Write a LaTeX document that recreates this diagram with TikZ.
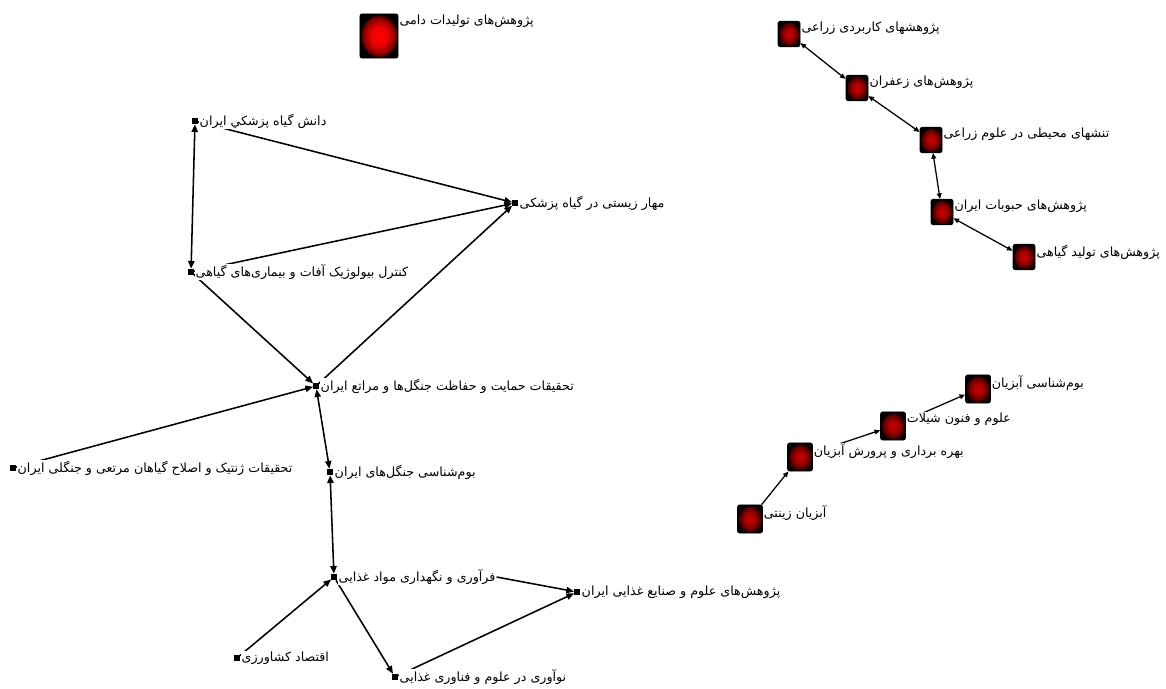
\documentclass[tikz,border=0pt]{standalone}
\usepackage{fontspec}
\newfontfamily\farsi[Script=Arabic]{DejaVu Sans}
\TeXXeTstate=1
\usetikzlibrary{arrows.meta,positioning}
\newcommand{\fa}[1]{\beginR #1\endR}
% Sombreados de los cuadros
\pgfdeclareradialshading{brillo}{\pgfpoint{0bp}{0bp}}{color(0bp)=(red); color(11bp)=(red!92!black);
  color(21bp)=(red!50!black); color(25bp)=(black); color(50bp)=(black)}
\pgfdeclareradialshading{granate}{\pgfpoint{0bp}{0bp}}{color(0bp)=(red!78!black); color(9bp)=(red!68!black);
  color(20bp)=(red!35!black); color(25bp)=(black); color(50bp)=(black)}
\tikzset{
  punto/.style={fill=black, inner sep=0pt, minimum width=0.13cm, minimum height=0.15cm},
  cuadro/.style={draw=black, line width=0.6pt, rounded corners=1.5pt, inner sep=0pt,
    minimum width=0.55cm, minimum height=0.63cm, shade, shading=granate},
  cuadrob/.style={cuadro, minimum width=0.62cm, minimum height=0.7cm},
  cuadrogrande/.style={cuadro, minimum width=0.95cm, minimum height=1.1cm, shading=brillo},
  etiqueta/.style={fill=white, inner sep=0.6pt, font=\farsi\fontsize{9}{10}\selectfont},
  flecha/.style={-{Triangle[length=5.5pt,width=4.5pt]}, line width=1.1pt},
  doblef/.style={{Triangle[length=5.5pt,width=4.5pt]}-{Triangle[length=5.5pt,width=4.5pt]}, line width=1.1pt},
  doble/.style={{Triangle[length=4pt,width=3.4pt]}-{Triangle[length=4pt,width=3.4pt]}, line width=0.9pt},
  fina/.style={-{Triangle[length=4pt,width=3.4pt]}, line width=0.9pt}
}
\begin{document}
\begin{tikzpicture}[x=0.025cm, y=-0.025cm]
  \useasboundingbox (0,0) rectangle (1166,689);
  % Nodos del grupo izquierdo
  \node[punto] (danesh) at (195,121) {};
  \node[punto] (mahar) at (515,203) {};
  \node[punto] (kontrol) at (191,272) {};
  \node[punto] (hemayat) at (316,386) {};
  \node[punto] (zhenetik) at (13,468) {};
  \node[punto] (boomjangal) at (330,472) {};
  \node[punto] (faravari) at (334,577) {};
  \node[punto] (sanaye) at (577,592) {};
  \node[punto] (eghtesad) at (237,658) {};
  \node[punto] (noavari) at (395,677) {};
  % Cuadros rojos
  \node[cuadrogrande] (dami) at (379,36) {};
  \node[cuadro] (karbordi) at (789,34) {};
  \node[cuadro] (zafaran) at (857,88) {};
  \node[cuadro] (tanesh) at (931,140) {};
  \node[cuadro] (hobubat) at (942,212) {};
  \node[cuadro] (tolid) at (1024,257) {};
  \node[cuadrob] (zinati) at (750,519) {};
  \node[cuadrob] (bahre) at (800,457) {};
  \node[cuadrob] (shilat) at (893,426) {};
  \node[cuadrob] (abzian) at (978,389) {};
  % Aristas del grupo izquierdo
  \draw[doblef] (danesh) -- (kontrol);
  \draw[flecha] (danesh) -- (mahar);
  \draw[flecha] (kontrol) -- (mahar);
  \draw[flecha] (kontrol) -- (hemayat);
  \draw[flecha] (hemayat) -- (mahar);
  \draw[flecha] (zhenetik) -- (hemayat);
  \draw[doblef] (hemayat) -- (boomjangal);
  \draw[doblef] (boomjangal) -- (faravari);
  \draw[flecha] (eghtesad) -- (faravari);
  \draw[flecha] (faravari) -- (noavari);
  \draw[flecha] (noavari) -- (sanaye);
  % Aristas de la derecha
  \draw[doble] (karbordi) -- (zafaran);
  \draw[doble] (zafaran) -- (tanesh);
  \draw[doble] (tanesh) -- (hobubat);
  \draw[doble] (hobubat) -- (tolid);
  \draw[fina] (zinati) -- (bahre);
  \draw[fina] (bahre) -- (shilat);
  \draw[fina] (shilat) -- (abzian);
  % Etiquetas (encima de las aristas)
  \node[etiqueta, right=0.5pt of danesh] (danesh-t) {\fa{دانش گیاه پزشکي ایران}};
  \node[etiqueta, right=0.5pt of mahar] (mahar-t) {\fa{مهار زیستی در گیاه پزشکی}};
  \node[etiqueta, right=0.5pt of kontrol] (kontrol-t) {\fa{کنترل بیولوژیک آفات و بیماری‌های گیاهی}};
  \node[etiqueta, right=0.5pt of hemayat] (hemayat-t) {\fa{تحقیقات حمایت و حفاظت جنگل‌ها و مراتع ایران}};
  \node[etiqueta, right=0.5pt of zhenetik] (zhenetik-t) {\fa{تحقیقات ژنتیک و اصلاح گیاهان مرتعی و جنگلی ایران}};
  \node[etiqueta, right=0.5pt of boomjangal] (boomjangal-t) {\fa{بوم‌شناسی جنگل‌های ایران}};
  \node[etiqueta, right=0.5pt of faravari] (faravari-t) {\fa{فرآوری و نگهداری مواد غذایی}};
  \node[etiqueta, right=0.5pt of sanaye] (sanaye-t) {\fa{پژوهش‌های علوم و صنایع غذایی ایران}};
  \node[etiqueta, right=0.5pt of eghtesad] (eghtesad-t) {\fa{اقتصاد کشاورزی}};
  \node[etiqueta, right=0.5pt of noavari] (noavari-t) {\fa{نوآوری در علوم و فناوری غذایی}};
  \node[etiqueta, anchor=north west] (dami-t) at (dami.north east) {\fa{پژوهش‌های تولیدات دامی}};
  \node[etiqueta, anchor=north west] (karbordi-t) at (karbordi.north east) {\fa{پژوهشهای کاربردی زراعی}};
  \node[etiqueta, anchor=north west] (zafaran-t) at (zafaran.north east) {\fa{پژوهش‌های زعفران}};
  \node[etiqueta, anchor=north west] (tanesh-t) at (tanesh.north east) {\fa{تنشهای محیطی در علوم زراعی}};
  \node[etiqueta, anchor=north west] (hobubat-t) at (hobubat.north east) {\fa{پژوهش‌های حبوبات ایران}};
  \node[etiqueta, anchor=north west] (tolid-t) at (tolid.north east) {\fa{پژوهش‌های تولید گیاهی}};
  \node[etiqueta, anchor=north west] (zinati-t) at (zinati.north east) {\fa{آبزیان زینتی}};
  \node[etiqueta, anchor=north west] (bahre-t) at (bahre.north east) {\fa{بهره برداری و پرورش آبزیان}};
  \node[etiqueta, anchor=north west] (shilat-t) at (shilat.north east) {\fa{علوم و فنون شیلات}};
  \node[etiqueta, anchor=north west] (abzian-t) at (abzian.north east) {\fa{بوم‌شناسی آبزیان}};
  % Arista que sale del final de la etiqueta
  \draw[flecha] (faravari-t.east) -- (sanaye);
\end{tikzpicture}
\end{document}
